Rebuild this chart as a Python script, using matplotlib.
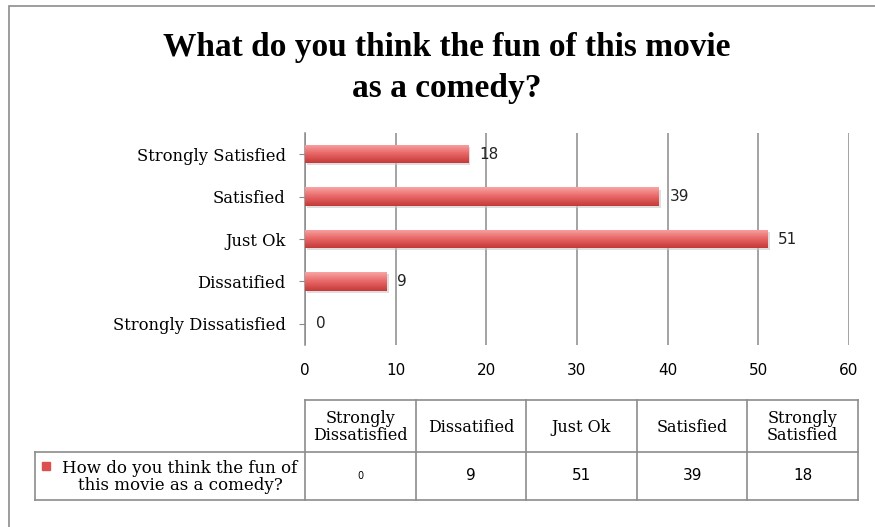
import numpy as np
import matplotlib.pyplot as plt
from matplotlib.patches import Rectangle

# Survey responses
categories = ['Strongly Dissatisfied', 'Dissatified', 'Just Ok', 'Satisfied', 'Strongly Satisfied']
counts = [0, 9, 51, 39, 18]
table_headers = ['Strongly\nDissatisfied', 'Dissatified', 'Just Ok', 'Satisfied', 'Strongly\nSatisfied']
series_name = 'How do you think the fun of\nthis movie as a comedy?'
title = 'What do you think the fun of this movie\nas a comedy?'

W, H = 875, 527
fig = plt.figure(figsize=(W / 100, H / 100), dpi=100)
fig.patch.set_facecolor('white')

def fig_box(x0, y0, x1, y1):
    # pixel box (top-left origin) -> figure fraction
    return [x0 / W, 1 - y1 / H, (x1 - x0) / W, (y1 - y0) / H]

# outer chart border
fig.add_artist(Rectangle((9 / W, -0.1), 1.2, 1 - 6 / H + 0.1, transform=fig.transFigure,
                         fill=False, edgecolor='#8c8c8c', linewidth=1.2))

fig.text(447 / W, 1 - 68 / H, title, ha='center', va='center', family='Liberation Serif',
         fontweight='bold', fontsize=24, linespacing=1.4)

serif = 'DejaVu Serif'
grid_col = '#8a8a8a'

ax = fig.add_axes(fig_box(305, 133, 849, 345))
y = np.arange(len(categories))
bars = ax.barh(y, counts, height=0.43, color='#dc5050', edgecolor='none', zorder=3)

# shaded fill and drop shadow on each bar
grad = np.linspace(0, 1, 64).reshape(-1, 1)
cmap = plt.matplotlib.colors.LinearSegmentedColormap.from_list(
    'barshade', ['#f8a4a4', '#e86666', '#c43a38'])
for b in bars:
    if b.get_width() <= 0:
        continue
    x0, y0, w, h = b.get_x(), b.get_y(), b.get_width(), b.get_height()
    ax.add_patch(Rectangle((x0 + 0.25, y0 - 0.05), w, h, color='#c8c8c8', alpha=0.6,
                           zorder=2, linewidth=0))
    im = ax.imshow(grad, extent=[x0, x0 + w, y0 + h, y0], aspect='auto', cmap=cmap,
                   origin='lower', zorder=4)
    im.set_clip_path(b)

for yi, v in zip(y, counts):
    ax.text(v + 1.2, yi, str(v), va='center', ha='left', fontsize=11,
            family='DejaVu Sans', color='#222222', zorder=5)

ax.set_xlim(0, 60)
ax.set_ylim(-0.5, len(categories) - 0.5)
ax.set_xticks(range(0, 61, 10))
ax.set_yticks(y)
ax.set_yticklabels(categories, family=serif, fontsize=11.8)
ax.tick_params(axis='x', length=0, labelsize=11, pad=13)
ax.tick_params(axis='y', length=4, color=grid_col, pad=10)
ax.grid(axis='x', color=grid_col, linewidth=1.1, zorder=0)
for s in ['top', 'right', 'bottom']:
    ax.spines[s].set_visible(False)
ax.spines['left'].set_color(grid_col)
ax.spines['left'].set_linewidth(1.1)

# data table below the chart
tx = fig.add_axes([0, 0, 1, 1])
tx.set_xlim(0, W)
tx.set_ylim(H, 0)
tx.axis('off')
col_edges = np.linspace(305, 858, len(table_headers) + 1)
top, mid, bot = 400, 452, 500
line_kw = dict(color='#8c8c8c', linewidth=1.2)
tx.plot([col_edges[0], col_edges[-1]], [top, top], **line_kw)
tx.plot([35, col_edges[-1]], [mid, mid], **line_kw)
tx.plot([35, col_edges[-1]], [bot, bot], **line_kw)
tx.plot([35, 35], [mid, bot], **line_kw)
for xe in col_edges:
    tx.plot([xe, xe], [top, bot], **line_kw)

for i, (hdr, v) in enumerate(zip(table_headers, counts)):
    cx = (col_edges[i] + col_edges[i + 1]) / 2
    tx.text(cx, (top + mid) / 2 + 1, hdr, ha='center', va='center', family=serif,
            fontsize=11.5, linespacing=1.0)
    tx.text(cx, (mid + bot) / 2, str(v), ha='center', va='center', family='DejaVu Sans',
            fontsize=7 if v == 0 else 11)

tx.add_patch(Rectangle((42, 462), 8, 8, color='#dc5050'))
tx.text(180, (mid + bot) / 2 + 1, series_name, ha='center', va='center', family=serif,
        fontsize=12, linespacing=1.05)

fig.savefig('out.png', dpi=100, facecolor='white')
